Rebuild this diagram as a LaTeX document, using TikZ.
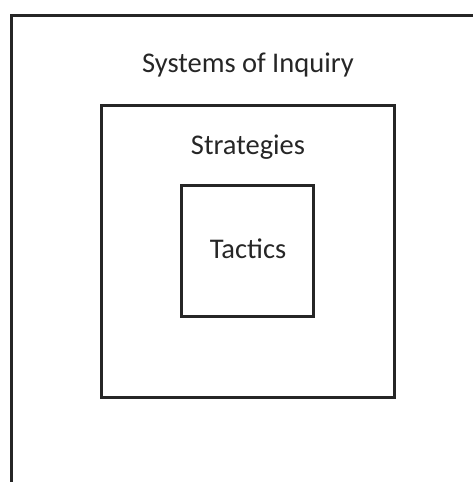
\documentclass[tikz,border=0pt]{standalone}
\usepackage{fontspec}
\setmainfont{Carlito}
\tikzset{
  frame/.style={line width=3pt, draw=black!85},
  label/.style={font=\fontsize{28.5}{32}\selectfont, text=black!85, anchor=base}
}

\begin{document}
\begin{tikzpicture}[x=1pt, y=-1pt]

% page
\useasboundingbox (0, 0) rectangle (473, 482);

% outer level (only top and left edges shown)
\draw [frame] (473, 15) -- (11, 15) -- (11, 482);
\node [label] (inquiry) at (248, 72) {Systems of Inquiry};

% middle level
\node [frame, minimum width=293pt, minimum height=292pt] (strategybox) at (247.5, 251) {};
\node [label] (strategies) at (248, 154) {Strategies};

% inner level
\node [frame, minimum width=132pt, minimum height=131pt] (tacticbox) at (247, 250.5) {};
\node [label] (tactics) at (248, 258) {Tactics};

\end{tikzpicture}
\end{document}
